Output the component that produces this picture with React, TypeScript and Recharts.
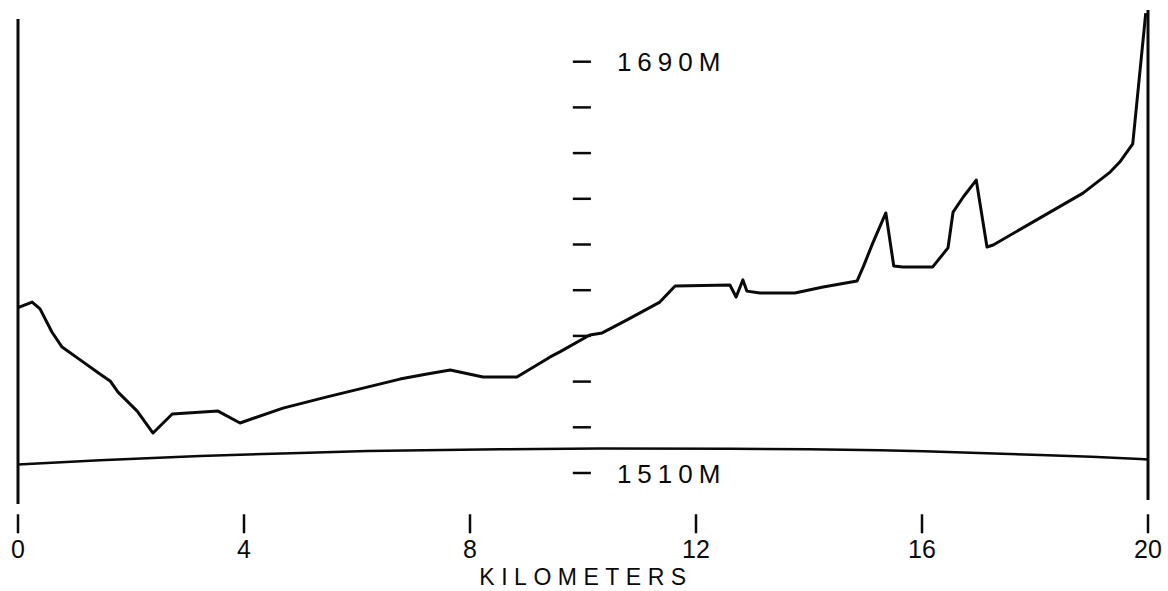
import React from 'react';
import { LineChart, Line, XAxis, YAxis, ReferenceLine } from 'recharts';

// Terrain profile (km along path, elevation in metres)
const profileKm = [
  0, 0.25, 0.39, 0.6, 0.78, 1.1, 1.45, 1.63, 1.77, 2.11, 2.39, 2.73, 3.54, 3.93,
  4.69, 5.47, 6.18, 6.76, 7.24, 7.65, 8.23, 8.83, 9.42, 9.59, 10.12, 10.34, 10.78,
  11.36, 11.63, 12.6, 12.71, 12.83, 12.9, 13.13, 13.75, 14.25, 14.85, 14.96, 15.13,
  15.36, 15.5, 15.66, 16.19, 16.46, 16.55, 16.73, 16.96, 17.15, 17.26, 17.96, 18.85,
  19.33, 19.5, 19.73, 19.96,
];
const profileElev = [
  1582.4, 1584.8, 1581.8, 1571.7, 1565.1, 1559.5, 1553.3, 1550.3, 1545.4, 1537.1,
  1527.5, 1535.8, 1537.1, 1531.9, 1538.4, 1543.3, 1547.6, 1551.1, 1553.3, 1555.1,
  1552.0, 1552.0, 1560.8, 1563.0, 1570.4, 1571.3, 1577.0, 1584.8, 1591.8, 1592.3,
  1587.0, 1594.5, 1589.6, 1588.8, 1588.8, 1591.4, 1594.0, 1600.2, 1610.7, 1623.8,
  1600.6, 1600.2, 1600.2, 1608.5, 1624.2, 1630.8, 1638.2, 1608.9, 1609.8, 1619.8,
  1632.5, 1641.7, 1646.1, 1654.0, 1711.3,
];

// Earth-curvature reference line
const curveKm = [0, 1.45, 3.22, 4.99, 6.18, 8.53, 10.3, 12.6, 14.0, 15.26, 16.04, 17.0, 18.09, 19.0, 19.86, 20];
const curveElev = [1513.7, 1515.6, 1517.4, 1518.8, 1519.6, 1520.4, 1520.7, 1520.6, 1520.4, 1520.0, 1519.5, 1518.8, 1517.9, 1517.1, 1516.1, 1515.9];

const xTicks = [0, 4, 8, 12, 16, 20];
const yTicks = [1510, 1530, 1550, 1570, 1590, 1610, 1630, 1650, 1670, 1690];
const yTickLabels: Record<number, string> = { 1510: '1510M', 1690: '1690M' };
const xAxisTitle = 'KILOMETERS';
const yDomain = [1495, 1715];
const leftBorderElev = [1496.4, 1708.7];
const rightBorderElev = [1498.2, 1712.6];
const yAxisKm = 9.98;
const yTickHalfKm = 0.16;

const FONT = '"Liberation Sans", Arial, sans-serif';
const INK = '#0a0a0a';

const profileData = profileKm.map((km, i) => ({ km, elev: profileElev[i] }));
const curveData = curveKm.map((km, i) => ({ km, elev: curveElev[i] }));

const XTick = (props: any) => {
  const { x, y, payload } = props;
  return (
    <g>
      <line x1={x} x2={x} y1={y + 7} y2={y + 26} stroke={INK} strokeWidth={2.5} />
      <text x={x} y={y + 51} textAnchor="middle" fontFamily={FONT} fontSize={25} fill={INK}>
        {payload.value}
      </text>
    </g>
  );
};

const xTitle = (props: any) => {
  const vb = props.viewBox || {};
  return (
    <text
      x={vb.x + vb.width / 2 + 3}
      y={vb.y + 78}
      textAnchor="middle"
      fontFamily={FONT}
      fontSize={23}
      letterSpacing={6.5}
      fill={INK}
    >
      {xAxisTitle}
    </text>
  );
};

const yLabel = (text: string) => (props: any) => {
  const vb = props.viewBox || {};
  return (
    <text
      x={vb.x + vb.width + 26}
      y={vb.y + 9.5}
      textAnchor="start"
      fontFamily={FONT}
      fontSize={26}
      letterSpacing={6}
      fill={INK}
    >
      {text}
    </text>
  );
};

export default function App() {
  return (
    <div style={{ position: 'absolute', left: 0, top: 0, width: 1168, height: 591, background: '#fff' }}>
      <LineChart width={1168} height={591} margin={{ top: 4.575, right: 20, bottom: 0, left: 18 }}>
        <XAxis
          dataKey="km"
          type="number"
          domain={[0, 20]}
          ticks={xTicks}
          height={83.725}
          axisLine={false}
          tickLine={false}
          tickSize={0}
          tickMargin={0}
          tick={<XTick />}
          label={xTitle}
          allowDataOverflow
        />
        <YAxis type="number" domain={yDomain} hide allowDataOverflow />
        <ReferenceLine
          segment={[{ x: 0, y: leftBorderElev[0] }, { x: 0, y: leftBorderElev[1] }]}
          stroke={INK}
          strokeWidth={3}
          ifOverflow="visible"
        />
        <ReferenceLine
          segment={[{ x: 20, y: rightBorderElev[0] }, { x: 20, y: rightBorderElev[1] }]}
          stroke={INK}
          strokeWidth={3}
          ifOverflow="visible"
        />
        {yTicks.map((v) => (
          <ReferenceLine
            key={v}
            segment={[{ x: yAxisKm - yTickHalfKm, y: v }, { x: yAxisKm + yTickHalfKm, y: v }]}
            stroke={INK}
            strokeWidth={2.5}
            ifOverflow="visible"
            label={yTickLabels[v] ? yLabel(yTickLabels[v]) : undefined}
          />
        ))}
        <Line
          data={curveData}
          dataKey="elev"
          type="linear"
          stroke={INK}
          strokeWidth={2.5}
          dot={false}
          activeDot={false}
          isAnimationActive={false}
        />
        <Line
          data={profileData}
          dataKey="elev"
          type="linear"
          stroke={INK}
          strokeWidth={3}
          strokeLinejoin="round"
          dot={false}
          activeDot={false}
          isAnimationActive={false}
        />
      </LineChart>
    </div>
  );
}
